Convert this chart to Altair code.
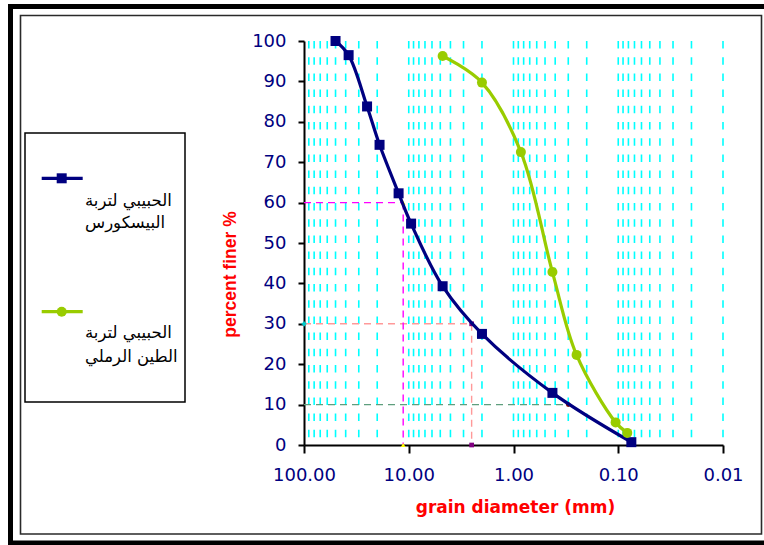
import altair as alt
import pandas as pd

# Particle-size distribution: grain diameter (mm) against percent finer
bisc_d = [50, 37.5, 25, 19, 12.5, 9.5, 4.75, 2.0, 0.425, 0.075]
bisc_p = [100, 96.5, 83.8, 74.3, 62.3, 54.8, 39.3, 27.5, 12.9, 0.7]
sand_d = [4.75, 2.0, 0.85, 0.425, 0.25, 0.106, 0.082]
sand_p = [96.3, 89.7, 72.5, 42.8, 22.3, 5.6, 3.0]

legend_lines = [["الحبيبي لتربة", "البيسكورس"], ["الحبيبي لتربة", "الطين الرملي"]]
series_colors = ["#000080", "#99CC00"]

# Characteristic diameters D60, D30, D10 of the gravel curve
ref_pct = [60, 30, 10]
ref_d = [11.3, 2.51, 0.30]
ref_colors = ["#FF00FF", "#FF9999", "#5E9E7E"]
ref_has_drop = [True, True, False]

x_ticks = [100, 10, 1, 0.1, 0.01]
y_ticks = list(range(0, 101, 10))
grid_d = [round(m * 10.0 ** k, 4) for k in range(-2, 2) for m in range(1, 10)]

W, H = 419, 404
LEFT, TOP = 304, 41

x_scale = alt.Scale(type="log", domain=[0.01, 100], reverse=True, nice=False)
y_scale = alt.Scale(domain=[0, 100], nice=False)

x_axis = alt.Axis(
    values=x_ticks, format=".2f", grid=False, labelFlush=False, labelOverlap=False,
    domainColor="black", domainWidth=2, tickColor="black", tickWidth=2, tickSize=8,
    labelFont="DejaVu Sans", labelFontSize=18, labelColor="#000080",
    labelBaseline="alphabetic", labelPadding=27,
    title="grain diameter (mm)", titleFont="DejaVu Sans", titleFontSize=17,
    titleFontWeight="bold", titleColor="#FF0000", titleX=211, titleY=67,
    titleBaseline="alphabetic", titleAlign="center",
)
y_axis = alt.Axis(
    values=y_ticks, grid=False, labelOverlap=False, labelFlush=False,
    domainColor="black", domainWidth=2, tickColor="black", tickWidth=2, tickSize=6,
    labelFont="DejaVu Sans", labelFontSize=18, labelColor="#000080", labelPadding=12,
    title="percent finer %", titleFont="Liberation Sans", titleFontSize=17.5,
    titleFontWeight="bold", titleColor="#FF0000", titleX=-74, titleY=233,
    titleBaseline="middle", titleAlign="center",
)

X = alt.X("d:Q", scale=x_scale, axis=x_axis)
Y = alt.Y("p:Q", scale=y_scale, axis=y_axis)

one = alt.Data(values=[{}])


def px(v):
    return alt.value(v - LEFT)


def py(v):
    return alt.value(v - TOP)


# page frame
outer = alt.Chart(one).mark_rect(fill=None, stroke="black", strokeWidth=5).encode(
    x=px(10.5), x2=px(800), y=py(6.5), y2=py(543)
)
inner = alt.Chart(one).mark_rect(fill=None, stroke="#2a2a2a", strokeWidth=1.6).encode(
    x=px(20.5), x2=px(761.5), y=py(15.5), y2=py(534)
)

# dashed vertical grid at every 1..9 x 10^k
grid = alt.Chart(pd.DataFrame({"d": grid_d})).mark_rule(
    color="#00FFFF", strokeWidth=1.6, strokeDash=[7.5, 8.7]
).encode(x=X)

ref_df = pd.DataFrame({
    "d": ref_d, "p": ref_pct, "c": ref_colors, "drop": ref_has_drop,
})
ref_df["d0"] = 100
ref_df["p0"] = 0

ref_h = alt.Chart(ref_df).mark_rule(strokeWidth=1.4, strokeDash=[7, 5]).encode(
    x=alt.X("d0:Q", scale=x_scale, axis=x_axis), x2="d:Q", y=Y,
    color=alt.Color("c:N", scale=None),
)
ref_v = alt.Chart(ref_df[ref_df["drop"]]).mark_rule(strokeWidth=1.4, strokeDash=[7, 5]).encode(
    x=X, y=Y, y2="p0:Q", color=alt.Color("c:N", scale=None),
)

mk = pd.DataFrame({
    "d": [ref_d[0], ref_d[0], ref_d[1], ref_d[1], 100, ref_d[2]],
    "p": [ref_pct[0], 0, ref_pct[1], 0, ref_pct[1], ref_pct[2]],
    "shape": ["triangle-up", "triangle-up", "square", "square", "cross", "circle"],
    "c": ["#FFFF00", "#FFFF00", "#800080", "#800080", "#00CCCC", "#800000"],
})
ref_marks = alt.Chart(mk).mark_point(filled=True, size=22, opacity=1).encode(
    x=X, y=Y, shape=alt.Shape("shape:N", scale=None), color=alt.Color("c:N", scale=None),
)

bisc = pd.DataFrame({"d": bisc_d, "p": bisc_p})
sand = pd.DataFrame({"d": sand_d, "p": sand_p})

bisc_line = alt.Chart(bisc).mark_line(
    color=series_colors[0], strokeWidth=3.2, interpolate="catmull-rom"
).encode(x=X, y=Y)
bisc_pts = alt.Chart(bisc).mark_point(
    shape="square", filled=True, size=100, color=series_colors[0], opacity=1
).encode(x=X, y=Y)
sand_line = alt.Chart(sand).mark_line(
    color=series_colors[1], strokeWidth=3.2, interpolate="catmull-rom"
).encode(x=X, y=Y)
sand_pts = alt.Chart(sand).mark_point(
    shape="circle", filled=True, size=100, color=series_colors[1], opacity=1
).encode(x=X, y=Y)

# legend box with line samples above two-line labels
leg_box = alt.Chart(one).mark_rect(fill="white", stroke="black", strokeWidth=1.5).encode(
    x=px(25), x2=px(185), y=py(133), y2=py(402)
)
leg_layers = [leg_box]
sample_y = [178.3, 311.7]
text_y = [[200.5, 222.5], [332.5, 357.0]]
shapes = ["square", "circle"]
for i in range(2):
    leg_layers.append(
        alt.Chart(one).mark_rule(color=series_colors[i], strokeWidth=3.2).encode(
            x=px(41.7), x2=px(82.7), y=py(sample_y[i])
        )
    )
    leg_layers.append(
        alt.Chart(one).mark_point(
            shape=shapes[i], filled=True, size=100, color=series_colors[i], opacity=1
        ).encode(x=px(61.7), y=py(sample_y[i]))
    )
    for j in range(2):
        leg_layers.append(
            alt.Chart(one).mark_text(
                font="DejaVu Sans", fontSize=16.5, align="left", baseline="middle", color="black"
            ).encode(x=px(85), y=py(text_y[i][j]), text=alt.value(legend_lines[i][j]))
        )

chart = alt.layer(
    outer, inner, grid, ref_h, ref_v, ref_marks,
    bisc_line, bisc_pts, sand_line, sand_pts, *leg_layers,
).properties(
    width=W, height=H,
    autosize=alt.AutoSizeParams(type="none"),
    padding={"left": LEFT, "top": TOP, "right": 764 - LEFT - W, "bottom": 545 - TOP - H},
    background="white",
).configure_view(strokeWidth=0)

chart.save("out.html", embed_options={"renderer": "svg", "actions": False})
